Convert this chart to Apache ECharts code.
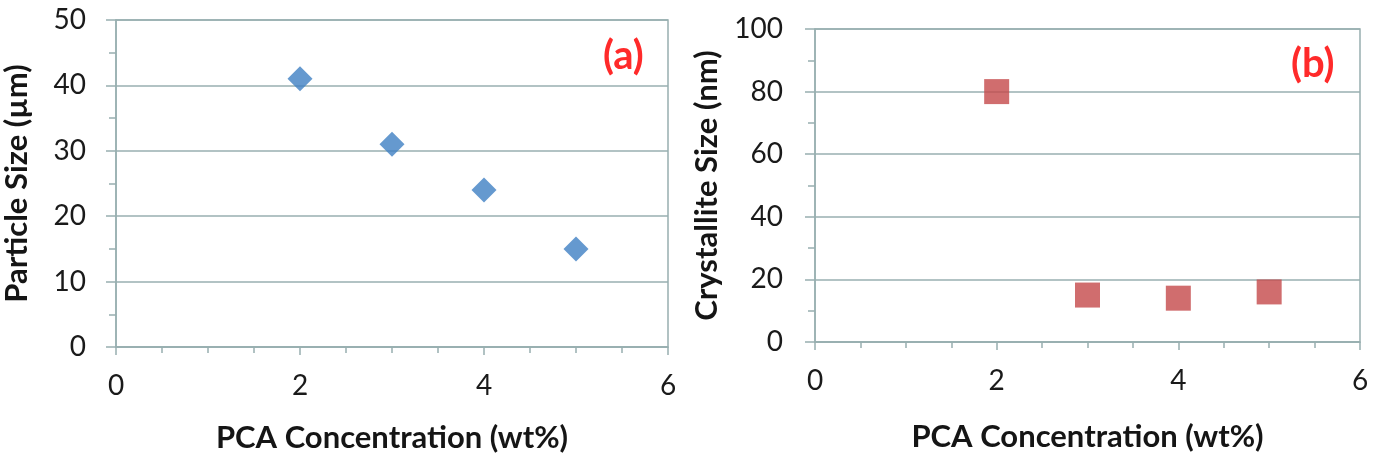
<!DOCTYPE html>
<html>
<head>
<meta charset="utf-8">
<script src="https://cdn.jsdelivr.net/npm/echarts@6/dist/echarts.min.js"></script>
<style>
  html, body { margin: 0; padding: 0; background: #fff; }
  #chart { width: 1377px; height: 459px; }
</style>
</head>
<body>
<div id="chart"></div>
<script>
// PCA concentration (wt%)
const pcaConc = [2, 3, 4, 5];
// (a) particle size, µm
const particleSize = [41, 31, 24, 15];
// (b) crystallite size, nm
const crystalliteSize = [80, 15, 14, 16];

const xTicks = { min: 0, max: 6, interval: 2 };
const yTicksA = { min: 0, max: 50, interval: 10 };
const yTicksB = { min: 0, max: 100, interval: 20 };

const gridColor = '#98afb0';
const font = 'Lato, "Open Sans", sans-serif';

const chart = echarts.init(document.getElementById('chart'));

function xAxisFor(gridIndex, gap) {
  return {
    gridIndex,
    type: 'value',
    min: xTicks.min,
    max: xTicks.max,
    interval: xTicks.interval,
    name: 'PCA Concentration (wt%)',
    nameLocation: 'middle',
    nameGap: gap,
    nameTextStyle: { fontFamily: font, fontSize: 31, fontWeight: 'bold', color: '#151515' },
    axisLine: { lineStyle: { color: gridColor, width: 1.5 } },
    axisTick: { show: true, length: 8, lineStyle: { color: gridColor, width: 1.5 } },
    minorTick: { show: true, splitNumber: 4, length: 6, lineStyle: { color: gridColor, width: 1.5 } },
    splitLine: { show: false },
    axisLabel: { fontFamily: font, fontSize: 28, color: '#1a1a1a', margin: 25 },
  };
}

function yAxisFor(gridIndex, ticks, name, gap, labelGap) {
  return {
    gridIndex,
    type: 'value',
    min: ticks.min,
    max: ticks.max,
    interval: ticks.interval,
    name,
    nameLocation: 'middle',
    nameGap: gap,
    nameTextStyle: { fontFamily: font, fontSize: 31, fontWeight: 'bold', color: '#151515' },
    axisLine: { show: true, lineStyle: { color: gridColor, width: 1.5 } },
    axisTick: { show: true, length: 10, lineStyle: { color: gridColor, width: 1.5 } },
    minorTick: { show: true, splitNumber: 2, length: 7, lineStyle: { color: gridColor, width: 1.5 } },
    splitLine: { show: true, lineStyle: { color: gridColor, width: 1.5 } },
    axisLabel: { fontFamily: font, fontSize: 28, color: '#1a1a1a', margin: labelGap },
  };
}

const option = {
  backgroundColor: '#fff',
  animation: false,
  title: [
    {
      text: '(a)', left: 598, top: 31,
      textStyle: { fontFamily: font, fontSize: 40, fontWeight: 'bold', color: '#ff2a2a' },
    },
    {
      text: '(b)', left: 1286, top: 39,
      textStyle: { fontFamily: font, fontSize: 40, fontWeight: 'bold', color: '#ff2a2a' },
    },
  ],
  grid: [
    { left: 114, top: 20, width: 554, height: 327, show: true, borderColor: gridColor, borderWidth: 1.5, backgroundColor: 'transparent' },
    { left: 815, top: 29, width: 545, height: 313, show: true, borderColor: gridColor, borderWidth: 1.5, backgroundColor: 'transparent' },
  ],
  xAxis: [xAxisFor(0, 75), xAxisFor(1, 79)],
  yAxis: [
    yAxisFor(0, yTicksA, 'Particle Size (µm)', 84, 30),
    yAxisFor(1, yTicksB, 'Crystallite Size (nm)', 93, 32),
  ],
  series: [
    {
      type: 'scatter',
      xAxisIndex: 0,
      yAxisIndex: 0,
      symbol: 'diamond',
      symbolSize: 25,
      itemStyle: { color: '#3f7fc3' },
      data: pcaConc.map((x, i) => [x, particleSize[i]]),
    },
    {
      type: 'scatter',
      xAxisIndex: 1,
      yAxisIndex: 1,
      symbol: 'rect',
      symbolSize: 25,
      itemStyle: { color: '#c4494a' },
      data: pcaConc.map((x, i) => [x, crystalliteSize[i]]),
    },
  ],
};

chart.setOption(option);
window.addEventListener('resize', () => {
  chart.resize();
});
</script>
</body>
</html>
